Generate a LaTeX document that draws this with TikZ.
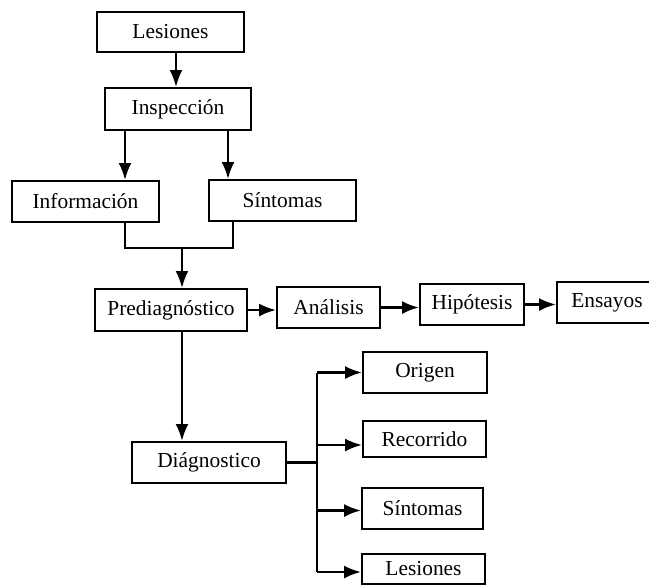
\documentclass[tikz,border=0pt]{standalone}
\usepackage{fontspec}
\setmainfont{Liberation Serif}
\usepackage{tikz}
\usetikzlibrary{calc, arrows.meta}

\tikzset{
    box/.style={draw, line width=0.9pt, inner sep=0pt, align=center,
        font=\fontsize{10.7}{12}\selectfont},
    arr/.style={line width=1.3pt, -{Latex[length=8.5pt, width=6.5pt]}},
    ln/.style={line width=1.3pt}
}

\begin{document}
\begin{tikzpicture}[x=0.5pt, y=-0.5pt]
    \useasboundingbox (0,0) rectangle (649,585);

    \node[box, minimum width=73.5pt, minimum height=20pt] (les) at (170.5,32) {Lesiones};
    \node[box, minimum width=73pt, minimum height=21pt] (insp) at (178,109) {Inspección};
    \node[box, minimum width=73.5pt, minimum height=20.5pt] (info) at (85.5,201.5) {Información};
    \node[box, minimum width=73.5pt, minimum height=20.5pt] (sint) at (282.5,200.5) {Síntomas};
    \node[box, minimum width=76pt, minimum height=21pt] (pred) at (171,310) {Prediagnóstico};
    \node[box, minimum width=51.5pt, minimum height=20.5pt] (anal) at (328.5,307.5) {Análisis};
    \node[box, minimum width=52pt, minimum height=20.5pt] (hip) at (472,304.5) {Hipótesis};
    \node[box, minimum width=50pt, minimum height=20.5pt] (ens) at (607,302.5) {Ensayos};
    \node[box, minimum width=77pt, minimum height=20.5pt] (diag) at (209,462.5) {Diágnostico};
    \node[box, minimum width=62pt, minimum height=20.5pt] (orig) at (425,372.5) {Origen};
    \node[box, minimum width=61.5pt, minimum height=18pt] (rec) at (424.5,439) {Recorrido};
    \node[box, minimum width=60.5pt, minimum height=20.5pt] (sint2) at (422.5,508.5) {Síntomas};
    \node[box, minimum width=61.5pt, minimum height=15pt] (les2) at (423.5,569) {Lesiones};

    \coordinate (c1) at ($(les.south)+(5.5,0)$);
    \coordinate (c2) at ($(insp.south)+(-53,0)$);
    \coordinate (c3) at ($(insp.south)+(50,0)$);
    \coordinate (c4) at ($(info.south)+(39.5,0)$);
    \coordinate (c5) at ($(sint.south)+(-49.5,0)$);
    \coordinate (c6) at ($(pred.south)+(11,0)$);
    \coordinate (mrg) at (182,248);
    \coordinate (br) at (317,462.5);

    \draw[arr] (c1) -- (c1 |- insp.north);
    \draw[arr] (c2) -- (c2 |- info.north);
    \draw[arr] (c3) -- (c3 |- sint.north);

    \draw[ln] (c4) |- (mrg) -| (c5);
    \draw[arr] (mrg) -- (mrg |- pred.north);

    \draw[arr] (pred.east) -- (pred.east -| anal.west);
    \draw[arr] (anal.east) -- (anal.east -| hip.west);
    \draw[arr] (hip.east) -- (hip.east -| ens.west);

    \draw[arr] (c6) -- (c6 |- diag.north);

    \coordinate (r1) at ($(rec.west)+(0,6)$);
    \coordinate (r2) at ($(sint2.west)+(0,2)$);
    \coordinate (r3) at ($(les2.west)+(0,3)$);

    \draw[ln] (diag.east) -- (br);
    \draw[ln] (br |- orig.west) -- (br |- r3);
    \draw[arr] (br |- orig.west) -- (orig.west);
    \draw[arr] (br |- r1) -- (r1);
    \draw[arr] (br |- r2) -- (r2);
    \draw[arr] (br |- r3) -- (r3);
\end{tikzpicture}
\end{document}
